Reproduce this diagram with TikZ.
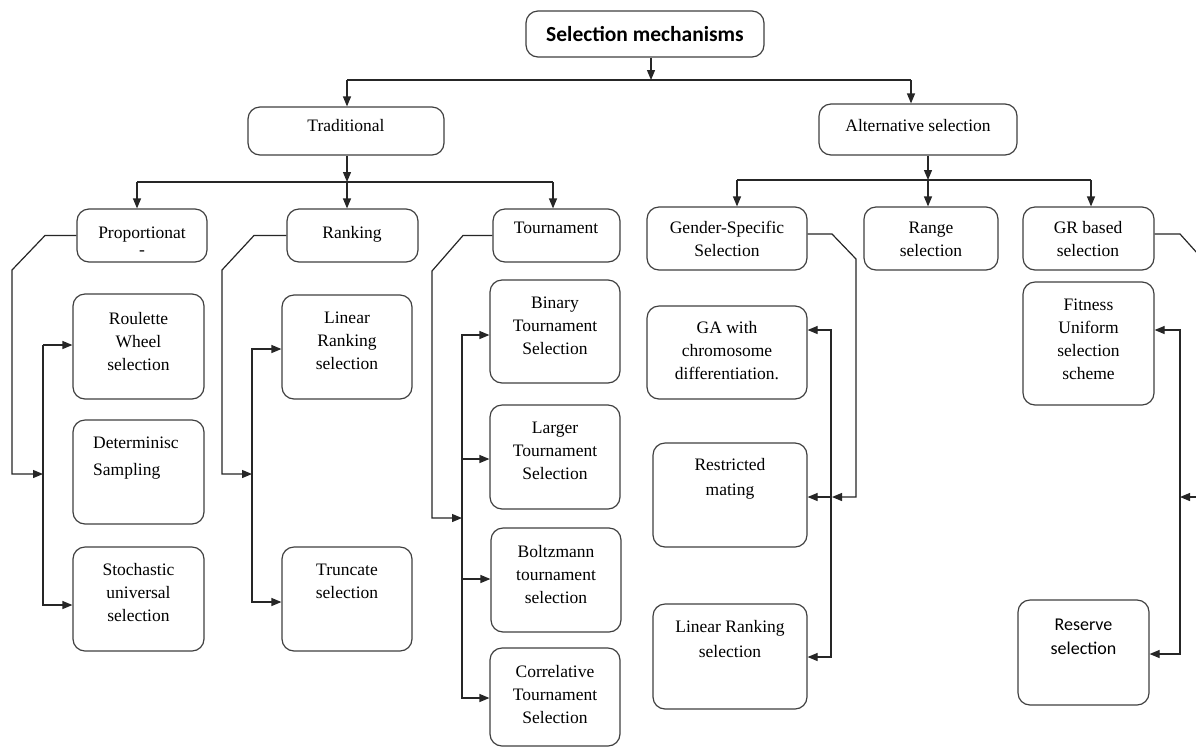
\documentclass[tikz,border=0pt]{standalone}
\usepackage{fontspec}
\setmainfont{Liberation Serif}
\newfontfamily\carlito{Carlito}
\usetikzlibrary{arrows.meta}
\newcommand\bx[5]{\node[box, minimum width={#4pt-#2pt}, minimum height={#5pt-#3pt}] (#1) at ({(#2+#4)/2},{(#3+#5)/2}) {};}
\newcommand\tx[4]{\node[txt] (#1) at (#2,{#3-16.1}) {\strut #4};}
\begin{document}
\begin{tikzpicture}[x=1pt,y=-1pt,
  box/.style={draw=black!75, line width=1.2pt, rounded corners=12pt, inner sep=0pt},
  txt/.style={font=\fontsize{17.5}{23}\selectfont, align=center, inner sep=0pt, anchor=north, text=black},
  ln/.style={draw=black!85, line width=1.2pt},
  arr/.style={ln, -{Triangle[length=10pt,width=8pt]}}]
\useasboundingbox[fill=white] (0,0) rectangle (1196,748);

% boxes
\bx{title}{526}{11}{764}{57}
\bx{trad}{248}{107}{444}{155}
\bx{alt}{819}{104}{1017}{155}
\bx{prop}{77}{209}{207}{262}
\bx{rank}{287}{209}{418}{262}
\bx{tour}{493}{209}{620}{262}
\bx{gen}{647}{207}{807}{270}
\bx{range}{864}{207}{998}{270}
\bx{gr}{1023}{207}{1154}{270}
\bx{rw}{73}{294}{204}{399}
\bx{det}{73}{420}{204}{524}
\bx{sus}{73}{547}{204}{651}
\bx{lrs}{282}{295}{412}{399}
\bx{trs}{282}{547}{412}{651}
\bx{bts}{490}{280}{620}{383}
\bx{lts}{490}{405}{620}{509}
\bx{bolt}{491}{528}{621}{632}
\bx{cts}{490}{648}{620}{746}
\bx{ga}{647}{306}{807}{399}
\bx{rm}{653}{443}{807}{547}
\bx{lr2}{653}{604}{807}{709}
\bx{fit}{1023}{282}{1154}{405}
\bx{res}{1018}{600}{1149}{705}

% texts
\node[inner sep=0pt, font=\carlito\bfseries\fontsize{21.5}{26}\selectfont] (title-t) at (645,34) {Selection mechanisms};
\tx{trad-t}{346}{131}{Traditional}
\tx{alt-t}{918}{131}{Alternative selection}
\tx{prop-t}{142}{238}{Proportionat\\[-6pt]-}
\tx{rank-t}{352}{238}{Ranking}
\tx{tour-t}{556}{233}{Tournament}
\tx{gen-t}{727}{233}{Gender-Specific\\Selection}
\tx{range-t}{931}{233}{Range\\selection}
\tx{gr-t}{1088}{233}{GR based\\selection}
\tx{rw-t}{138.5}{324}{Roulette\\Wheel\\selection}
\node[txt, align=left, anchor=north west] (det-t) at (93,{448-16.1}) {\strut Determinisc\\[4pt]Sampling};
\tx{sus-t}{138.5}{575}{Stochastic\\universal\\selection}
\tx{lrs-t}{347}{323}{Linear\\Ranking\\selection}
\tx{trs-t}{347}{575}{Truncate\\selection}
\tx{bts-t}{555}{308}{Binary\\Tournament\\Selection}
\tx{lts-t}{555}{433}{Larger\\Tournament\\Selection}
\tx{bolt-t}{556}{557}{Boltzmann\\tournament\\selection}
\tx{cts-t}{555}{677}{Correlative\\Tournament\\Selection}
\tx{ga-t}{727}{333}{GA with\\chromosome\\differentiation.}
\tx{rm-t}{730}{470}{Restricted\\[2pt]mating}
\tx{lr2-t}{730}{632}{Linear Ranking\\[2pt]selection}
\tx{fit-t}{1088.5}{310}{Fitness\\Uniform\\selection\\scheme}
\node[txt, font=\carlito\fontsize{18}{24}\selectfont] (res-t) at (1083.5,{630-16.8}) {\strut Reserve\\selection};

% top connectors
\coordinate (t0) at (651,80);
\coordinate (hL) at (347,80);
\coordinate (hR) at (911,80);
\draw[arr] (title.south -| t0) -- (t0);
\draw[ln] (hL) -- (hR);
\draw[arr] (hL) -- (hL |- trad.north);
\draw[arr] (hR) -- (hR |- alt.north);

\coordinate (t1) at (347,182);
\coordinate (p0) at (137,182);
\coordinate (u0) at (553,182);
\draw[arr] (trad.south -| t1) -- (t1);
\draw[ln] (p0) -- (u0);
\draw[arr] (p0) -- (p0 |- prop.north);
\draw[arr] (t1) -- (t1 |- rank.north);
\draw[arr] (u0) -- (u0 |- tour.north);

\coordinate (a1) at (928,180);
\coordinate (g0) at (737,180);
\coordinate (r0) at (1091,180);
\draw[arr] (alt.south -| a1) -- (a1);
\draw[ln] (g0) -- (r0);
\draw[arr] (g0) -- (g0 |- gen.north);
\draw[arr] (a1) -- (a1 |- range.north);
\draw[arr] (r0) -- (r0 |- gr.north);

% proportionate
\draw[arr] (prop.west) -- (45,235.5) -- (12,270) -- (12,474) -- (43,474);
\draw[ln] (43,345) -- (43,606);
\draw[arr] (43,345) -- (rw.west |- 0,345);
\draw[arr] (43,605) -- (sus.west |- 0,605);

% ranking
\draw[arr] (rank.west) -- (254,235.5) -- (222,270) -- (222,474) -- (252,474);
\draw[ln] (252,348) -- (252,603);
\draw[arr] (252,349) -- (lrs.west |- 0,349);
\draw[arr] (252,602) -- (trs.west |- 0,602);

% tournament
\draw[arr] (tour.west) -- (463,235.5) -- (432,271) -- (432,518) -- (462,518);
\draw[ln] (462,334) -- (462,699);
\draw[arr] (462,335) -- (bts.west |- 0,335);
\draw[arr] (462,459) -- (lts.west |- 0,459);
\draw[arr] (462,579) -- (bolt.west |- 0,579);
\draw[arr] (462,698) -- (cts.west |- 0,698);

% gender specific
\draw[arr] (gen.east |- 0,234) -- (832,234) -- (856,259) -- (856,497) -- (832,497);
\draw[ln] (831,329) -- (831,658);
\draw[arr] (831,330) -- (ga.east |- 0,330);
\draw[arr] (831,497) -- (rm.east |- 0,497);
\draw[arr] (831,657) -- (lr2.east |- 0,657);

% GR based
\draw[ln] (gr.east |- 0,234) -- (1180,234) -- (1198,254);
\draw[ln] (1180,329) -- (1180,655);
\draw[arr] (1180,330) -- (fit.east |- 0,330);
\draw[arr] (1180,654) -- (res.east |- 0,654);
\coordinate (grin) at (1197,497);
\draw[arr] (grin) -- (1180,497);
\end{tikzpicture}
\end{document}
